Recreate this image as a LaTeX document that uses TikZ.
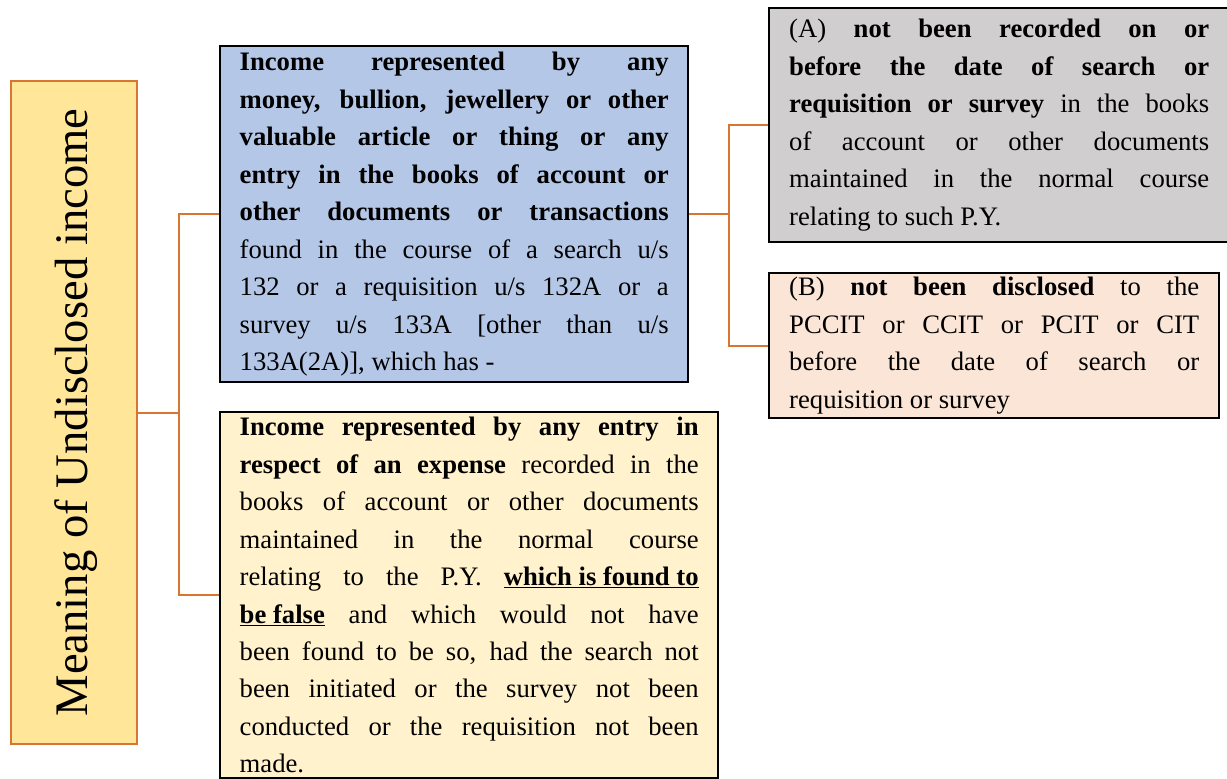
\documentclass[tikz,border=0pt]{standalone}
\usepackage{fontspec}
\setmainfont{Liberation Serif}
\usetikzlibrary{positioning}

\definecolor{boxorange}{RGB}{214,118,48}
\definecolor{titlefill}{RGB}{255,230,153}
\definecolor{bluefill}{RGB}{180,199,231}
\definecolor{yellowfill}{RGB}{255,242,204}
\definecolor{grayfill}{RGB}{208,206,206}
\definecolor{peachfill}{RGB}{251,229,214}

\begin{document}
\begin{tikzpicture}[x=0.75pt,y=-0.75pt]
\tikzset{
  textbox/.style={rectangle,draw=black,line width=1.8pt,anchor=north west,align=justify,
    inner ysep=0pt,font=\fontsize{20}{28.1}\selectfont},
  titlebox/.style={rectangle,draw=boxorange,fill=titlefill,line width=1.5pt,anchor=north west,
    minimum width=94.5pt,minimum height=497.25pt,inner sep=0pt},
  linkline/.style={draw=boxorange,line width=1.5pt,line join=miter}
}
\useasboundingbox (0,0) rectangle (1227,778);
% left title
\node[titlebox] (meaning) at (10,80) {};
\node[rotate=90,font=\fontsize{35}{42}\selectfont] (meaningtext) at ([xshift=1.5pt]meaning.center) {Meaning of Undisclosed income};
% middle boxes
\node[textbox,fill=bluefill,minimum width=351pt,minimum height=252pt,text width=321.75pt,inner xsep=14.6pt] (blue) at (219,45) {%
\textbf{Income represented by any}\linebreak
\textbf{money, bullion, jewellery or other}\linebreak
\textbf{valuable article or thing or any}\linebreak
\textbf{entry in the books of account or}\linebreak
\textbf{other documents or transactions}\linebreak
found in the course of a search u/s\linebreak
132 or a requisition u/s 132A or a\linebreak
survey u/s 133A [other than u/s\linebreak
133A(2A)], which has -};
\node[textbox,fill=yellowfill,minimum width=373.5pt,minimum height=274.5pt,text width=344.25pt,inner xsep=14.6pt] (yellow) at (219,411) {%
\textbf{Income represented by any entry in}\linebreak
\textbf{respect of an expense} recorded in the\linebreak
books of account or other documents\linebreak
maintained in the normal course\linebreak
relating to the P.Y. \underline{\textbf{which is found to}}\linebreak
\underline{\textbf{be false}} and which would not have\linebreak
been found to be so, had the search not\linebreak
been initiated or the survey not been\linebreak
conducted or the requisition not been\linebreak
made.};
% right boxes
\node[textbox,fill=grayfill,minimum width=345pt,minimum height=175.5pt,text width=315pt,inner xsep=15pt] (gray) at (768,7) {%
(A) \textbf{not been recorded on or}\linebreak
\textbf{before the date of search or}\linebreak
\textbf{requisition or survey} in the books\linebreak
of account or other documents\linebreak
maintained in the normal course\linebreak
relating to such P.Y.};
\node[textbox,fill=peachfill,minimum width=337.5pt,minimum height=108.75pt,text width=307.5pt,inner xsep=15pt] (peach) at (768,272) {%
(B) \textbf{not been disclosed} to the\linebreak
PCCIT or CCIT or PCIT or CIT\linebreak
before the date of search or\linebreak
requisition or survey};
% connectors
\coordinate[right=30.75pt of meaning.east] (fork1);
\coordinate[right=30pt of blue.east] (fork2);
\draw[linkline] (meaning.east) -- (fork1) |- (blue.west);
\draw[linkline] (fork1) |- (yellow.west);
\draw[linkline] (blue.east) -- (fork2) |- (gray.west);
\draw[linkline] (fork2) |- (peach.west);
\end{tikzpicture}
\end{document}
